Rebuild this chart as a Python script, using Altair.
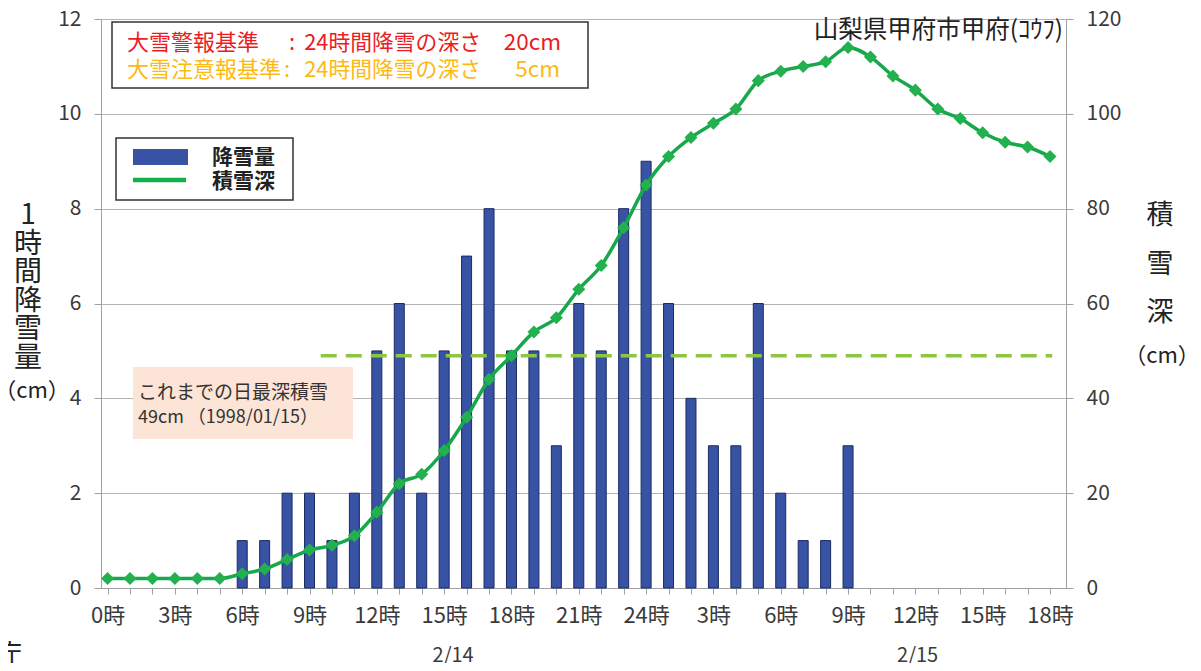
import altair as alt
import pandas as pd

# ---------------- data ----------------
hours = list(range(43))  # 2/14 0時 .. 2/15 18時
snowfall = [0, 0, 0, 0, 0, 0, 1, 1, 2, 2, 1, 2, 5, 6, 2, 5, 7, 8, 5, 5, 3, 6,
            5, 8, 9, 6, 4, 3, 3, 6, 2, 1, 1, 3, 0, 0, 0, 0, 0, 0, 0, 0, 0]
depth = [2, 2, 2, 2, 2, 2, 3, 4, 6, 8, 9, 11, 16, 22, 24, 29, 36, 44, 49, 54, 57, 63,
         68, 76, 85, 91, 95, 98, 101, 107, 109, 110, 111, 114, 112, 108, 105, 101, 99, 96, 94, 93, 91]
record_depth = [49]
record_span = [9.5, 42.1]
left_ticks = [0, 2, 4, 6, 8, 10, 12]
right_ticks = [0, 20, 40, 60, 80, 100, 120]
date_labels = ["2/14", "2/15"]

# ---------------- styling ----------------
FONT = "Noto Sans CJK JP"
OX, OY = 101, 19          # page position of plot origin
W, H = 965, 569
BAR = "#3852A4"
BAR_EDGE = "#1C2A66"
GREEN = "#17A84B"
MARKER = "#22B14E"
DASH = "#8DC641"
GRID = "#B4B4B4"
AXIS = "#A0A0A0"
LABEL = "#3A3A3A"
RED = "#EC1C24"
ORANGE = "#FDB913"

df = pd.DataFrame({"hour": hours, "snowfall": snowfall, "depth": depth})

xscale = alt.Scale(domain=[-0.07, 42.49], nice=False, zero=False)
xaxis = alt.Axis(
    values=hours,
    labelExpr="datum.value % 3 == 0 ? (datum.value > 24 ? datum.value - 24 : datum.value) + '時' : ''",
    title=None, grid=False, tickSize=6, tickColor=AXIS, domainColor=AXIS,
    labelFontSize=22, labelColor=LABEL, labelFont=FONT, labelPadding=11,
    labelOverlap=False, labelFlush=False,
)
yl_scale = alt.Scale(domain=[0, 12], nice=False)
yl_axis = alt.Axis(
    values=left_ticks, title=None, grid=True, gridColor=GRID, gridWidth=1,
    tickSize=7, tickColor=AXIS, domainColor=AXIS, labelFontSize=21,
    labelColor=LABEL, labelFont=FONT, labelPadding=13,
)
yr_scale = alt.Scale(domain=[0, 120], nice=False)
yr_axis = alt.Axis(
    orient="right", values=right_ticks, title=None, grid=False,
    tickSize=7, tickColor=AXIS, domainColor=AXIS, labelFontSize=21,
    labelColor=LABEL, labelFont=FONT, labelPadding=13,
)

one = pd.DataFrame({"a": [0]})


def px(x):
    return alt.value(x - OX)


def py(y):
    return alt.value(y - OY)


def box(x1, y1, x2, y2, fill, stroke=None, sw=0):
    kw = dict(fill=fill)
    if stroke:
        kw.update(stroke=stroke, strokeWidth=sw)
    return alt.Chart(one).mark_rect(**kw).encode(x=px(x1), x2=px(x2), y=py(y1), y2=py(y2))


def txt(s, x, y, size, color="#222222", align="left", weight="normal", baseline="middle", lh=None):
    kw = dict(text=s, fontSize=size, color=color, align=align, fontWeight=weight,
              baseline=baseline, font=FONT)
    if lh:
        kw.update(lineHeight=lh)
    return alt.Chart(one).mark_text(**kw).encode(x=px(x), y=py(y))


# ---------------- left (snowfall) ----------------
peach = box(133, 367, 353, 439, "#FCE4D6")
bars = alt.Chart(df).transform_filter("datum.snowfall > 0").mark_bar(
    size=10, fill=BAR, stroke=BAR_EDGE, strokeWidth=1, orient="vertical"
).encode(
    x=alt.X("hour:Q", scale=xscale, axis=xaxis),
    y=alt.Y("snowfall:Q", scale=yl_scale, axis=yl_axis),
)
left = alt.layer(peach, bars)

# ---------------- right (snow depth) ----------------
rec = pd.DataFrame({"x0": [record_span[0]], "x1": [record_span[1]], "d": record_depth})
rule = alt.Chart(rec).mark_rule(color=DASH, strokeWidth=3.5, strokeDash=[16, 9]).encode(
    x=alt.X("x0:Q", scale=xscale, axis=xaxis),
    x2="x1:Q",
    y=alt.Y("d:Q", scale=yr_scale, axis=yr_axis),
)
line = alt.Chart(df).mark_line(color=GREEN, strokeWidth=3.5, interpolate="monotone").encode(
    x=alt.X("hour:Q", scale=xscale, axis=xaxis),
    y=alt.Y("depth:Q", scale=yr_scale, axis=yr_axis),
)
pts = alt.Chart(df).mark_point(shape="diamond", filled=True, size=170, color=MARKER, opacity=1).encode(
    x=alt.X("hour:Q", scale=xscale, axis=xaxis),
    y=alt.Y("depth:Q", scale=yr_scale, axis=yr_axis),
)
right = alt.layer(rule, line, pts)

# ---------------- annotations ----------------
dates = pd.DataFrame({"t": date_labels, "x": [15.4, 36.1]})
date_text = alt.Chart(dates).mark_text(fontSize=20, color=LABEL, font=FONT, baseline="middle").encode(
    x=alt.X("x:Q", scale=xscale, axis=xaxis), y=py(656), text="t:N"
)

ann = [
    # criteria box
    box(112, 22, 588, 88, "white", "#333333", 1.5),
    txt("大雪警報基準", 127, 43, 22, RED),
    txt(":", 292, 43, 22, RED, align="center"),
    txt("24時間降雪の深さ", 481, 43, 21.8, RED, align="right"),
    txt("20cm", 561, 43, 22.5, RED, align="right"),
    txt("大雪注意報基準", 127, 70, 22, ORANGE),
    txt(":", 287, 70, 22, ORANGE, align="center"),
    txt("24時間降雪の深さ", 481, 70, 21.8, ORANGE, align="right"),
    txt("5cm", 560, 70, 22.5, ORANGE, align="right"),
    # legend
    box(116, 138, 293, 200, "white", "#333333", 1.5),
    box(133, 149, 188, 165, BAR),
    alt.Chart(one).mark_rule(color="#12B04A", strokeWidth=4.5).encode(
        x=px(133), x2=px(186), y=py(180)),
    txt("降雪量", 212, 158, 21, "#222222", weight="bold"),
    txt("積雪深", 212, 182, 21, "#222222", weight="bold"),
    # station
    txt("山梨県甲府市甲府(ｺｳﾌ)", 1063, 31, 24.5, "#222222", align="right"),
    # record annotation
    txt("これまでの日最深積雪", 138, 393, 19, "#333333"),
    txt("49cm （1998/01/15）", 138, 418, 18, "#333333"),
    # axis titles
    txt(["1", "時", "間", "降", "雪", "量"], 28, 202, 28, "#222222", align="center", baseline="top", lh=28.5),
    txt("（cm）", 32, 391, 22, "#222222", align="center"),
    txt(["積", "雪", "深"], 1160, 203, 27, "#222222", align="center", baseline="top", lh=48.5),
    txt("（cm）", 1162, 356, 22, "#222222", align="center"),
    # source (cut off)
    txt("気象庁", 22, 655, 26, "#222222", align="right"),
    date_text,
]

chart = alt.layer(left, right, *ann).resolve_scale(y="independent").properties(
    width=W, height=H,
    padding={"left": OX - 8, "top": OY - 8, "right": 1185 - W - (OX - 8), "bottom": 655 - H - (OY - 8)},
    autosize=alt.AutoSizeParams(type="none"),
).configure_view(stroke=None)

chart.save("out.html", embed_options={"renderer": "svg", "actions": False})
